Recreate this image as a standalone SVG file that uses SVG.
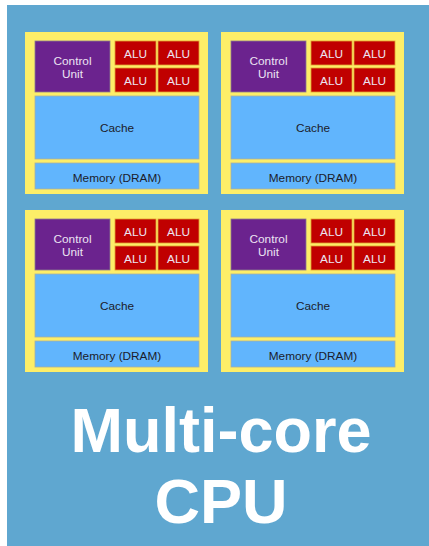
<svg xmlns="http://www.w3.org/2000/svg" width="429" height="546" viewBox="0 0 429 546">
  <defs>
    <style>
      .core { fill: #fdee68; }
      .cu { fill: #6b238e; stroke: #8a7a8e; stroke-width: 0.8; }
      .alu { fill: #c00000; stroke: #e0a030; stroke-width: 0.8; }
      .mem { fill: #61b5fd; stroke: #a8b0a0; stroke-width: 0.8; }
      .lbl { font-family: "Liberation Sans", Arial, sans-serif; font-size: 11.8px; text-anchor: middle; }
      .light { fill: #ece4f2; }
      .dark { fill: #1c1c2a; }
      .title { font-family: "Liberation Sans", Arial, sans-serif; font-weight: bold; font-size: 63px; fill: #ffffff; text-anchor: middle; }
    </style>
    <!-- one core: yellow frame with control unit, four ALUs, cache and memory -->
    <g id="coreShape">
      <rect class="core" x="0" y="0" width="183" height="162"/>
      <rect class="cu" x="10" y="9" width="75" height="51"/>
      <text class="lbl light" x="47.5" y="32.5">Control</text>
      <text class="lbl light" x="47.5" y="45.5">Unit</text>
      <rect class="alu" x="90" y="9" width="41" height="24"/>
      <rect class="alu" x="133" y="9" width="41" height="24"/>
      <rect class="alu" x="90" y="36" width="41" height="24"/>
      <rect class="alu" x="133" y="36" width="41" height="24"/>
      <text class="lbl light" x="110.5" y="26">ALU</text>
      <text class="lbl light" x="153.5" y="26">ALU</text>
      <text class="lbl light" x="110.5" y="53">ALU</text>
      <text class="lbl light" x="153.5" y="53">ALU</text>
      <rect class="mem" x="10" y="64" width="164" height="63"/>
      <text class="lbl dark" x="92" y="100">Cache</text>
      <rect class="mem" x="10" y="131" width="164" height="26"/>
      <text class="lbl dark" x="92" y="149.5">Memory (DRAM)</text>
    </g>
  </defs>

  <!-- chip background -->
  <rect x="7" y="5" width="422" height="541" fill="#5fa7d0"/>

  <g id="core1"><use href="#coreShape" x="25" y="32"/></g>
  <g id="core2"><use href="#coreShape" x="221" y="32"/></g>
  <g id="core3"><use href="#coreShape" x="25" y="210"/></g>
  <g id="core4"><use href="#coreShape" x="221" y="210"/></g>

  <g id="connectors"></g>

  <g id="title">
    <text class="title" x="221" y="452">Multi-core</text>
    <text class="title" x="221" y="523">CPU</text>
  </g>
</svg>
